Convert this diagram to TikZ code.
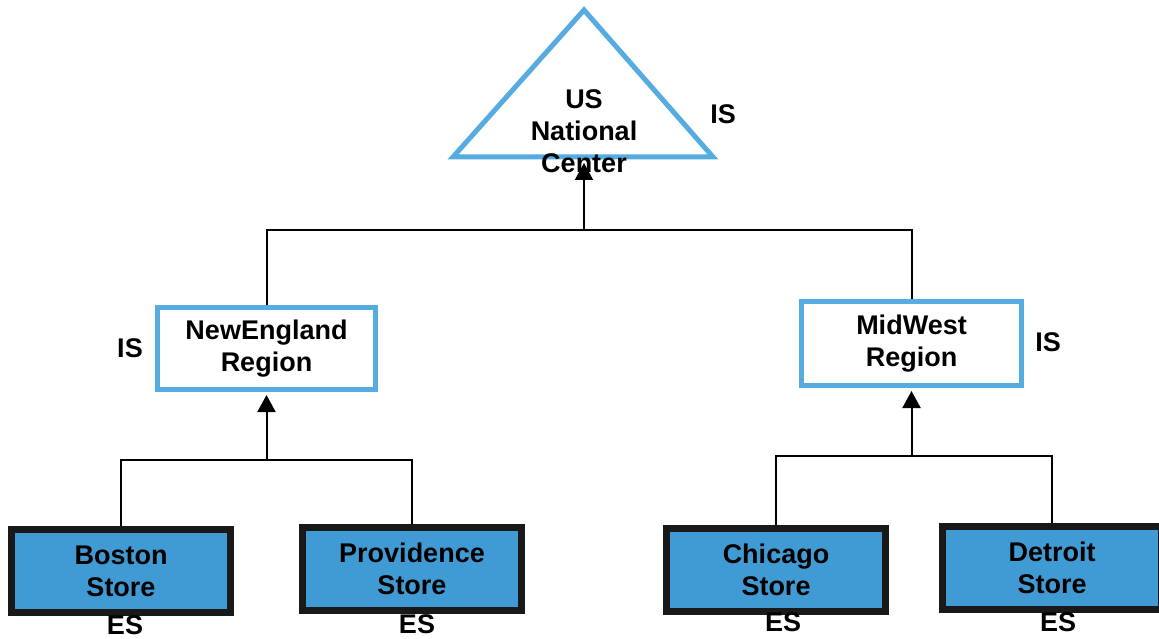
\documentclass[tikz,border=0pt]{standalone}
\usepackage{fontspec}
\setmainfont{Liberation Sans}
\usetikzlibrary{arrows.meta}

\definecolor{lineblue}{RGB}{86,172,224}
\definecolor{storeblue}{RGB}{64,155,212}

\tikzset{
	region/.style={draw=lineblue, line width=5pt, fill=white, minimum width=218pt, minimum height=82pt, align=center, inner sep=0pt},
	store/.style={draw=black!90, line width=7pt, fill=storeblue, minimum width=219pt, minimum height=83pt, align=center, inner sep=0pt},
	tag/.style={inner sep=0pt},
	link/.style={line width=2pt},
	uplink/.style={line width=2pt, -{Triangle[length=17pt,width=18pt]}, shorten >=3pt}
}

\begin{document}
\begin{tikzpicture}[x=1pt, y=-1pt, font=\fontsize{27}{32}\selectfont\bfseries]
	\useasboundingbox (0,0) rectangle (1159,639);

	%national center
	\draw[lineblue, line width=5pt, line join=miter] (584,10) -- (713,157) -- (453,157) -- cycle;
	\node[align=center] (US) at (584,131) {US\\National\\Center};
	\coordinate (USBase) at (584,160);
	\node[tag] (USTag) at (723,114) {IS};

	%regions
	\node[region] (NewEngland) at (266.5,348.5) {NewEngland\\Region};
	\node[tag] (NewEnglandTag) at (130,348) {IS};
	\node[region, minimum width=220pt, minimum height=84pt] (MidWest) at (911.5,343.5) {MidWest\\Region};
	\node[tag] (MidWestTag) at (1048,342) {IS};

	%stores
	\node[store] (Boston) at (121,571) {Boston\\Store};
	\node[store] (Providence) at (412,568.5) {Providence\\Store};
	\node[store] (Chicago) at (776,569.5) {Chicago\\Store};
	\node[store] (Detroit) at (1052,568) {Detroit\\Store};
	\node[tag] (BostonTag) at (125,625) {ES};
	\node[tag] (ProvidenceTag) at (417,624) {ES};
	\node[tag] (ChicagoTag) at (783,622) {ES};
	\node[tag] (DetroitTag) at (1058,622) {ES};

	%regions to center
	\coordinate (TopJoin) at (584,230);
	\draw[link] (NewEngland.north) |- (TopJoin) -| (MidWest.north);
	\draw[uplink] (TopJoin) -- (USBase);

	%stores to regions
	\coordinate (NewEnglandJoin) at (266.5,460);
	\draw[link] (Boston.north) |- (NewEnglandJoin) -| (Providence.north);
	\draw[uplink] (NewEnglandJoin) -- (NewEngland.south);
	\coordinate (MidWestJoin) at (911.5,456);
	\draw[link] (Chicago.north) |- (MidWestJoin) -| (Detroit.north);
	\draw[uplink] (MidWestJoin) -- (MidWest.south);
\end{tikzpicture}
\end{document}
